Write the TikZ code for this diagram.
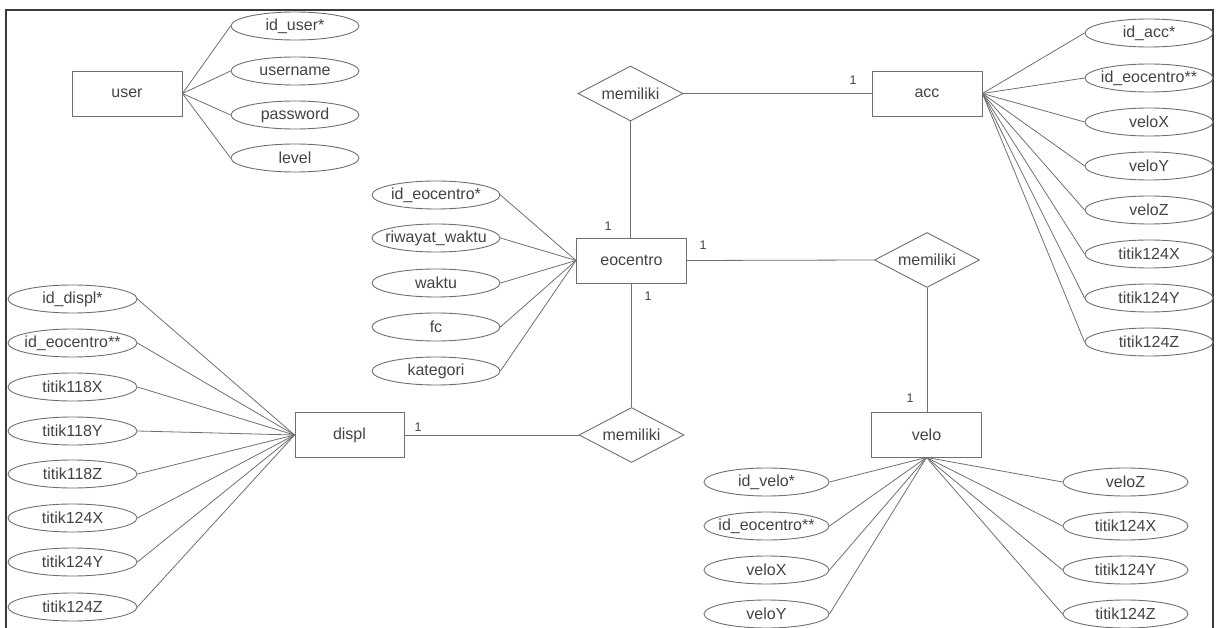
\documentclass[tikz,border=0pt]{standalone}
\usepackage{fontspec}
\setmainfont{Liberation Sans}
\usetikzlibrary{shapes.geometric}
\definecolor{txt}{HTML}{444444}
\definecolor{ln}{HTML}{707070}
\definecolor{frm}{HTML}{3A3A3A}
\tikzset{
  ent/.style={draw=ln, line width=0.9pt, rectangle, minimum width=110pt, minimum height=45pt, inner sep=0pt, text=txt, font=\fontsize{16}{19}\selectfont},
  attr/.style={draw=ln, line width=0.9pt, ellipse, minimum width=128pt, minimum height=28pt, inner sep=0pt, text=txt, font=\fontsize{16}{19}\selectfont},
  rel/.style={draw=ln, line width=0.9pt, diamond, aspect=2, minimum width=105pt, minimum height=55pt, inner sep=0pt, text=txt, font=\fontsize{16}{19}\selectfont},
  conn/.style={draw=ln, line width=0.8pt},
  card/.style={text=txt, font=\fontsize{12.5}{14}\selectfont, inner sep=0pt}
}
\newcommand{\at}[1]{\makebox[0pt]{#1}}
\begin{document}
\begin{tikzpicture}[x=1pt,y=-1pt]
\useasboundingbox (0,0) rectangle (1216,628);
\fill[white] (0,0) rectangle (1216,628);
\draw[frm, line width=1.8pt] (6,628) -- (6,10) -- (1213,10) -- (1213,628);

% entities
\node[ent] (user) at (127,93.5) {user};
\node[ent] (acc) at (927,93.5) {acc};
\node[ent] (eoc) at (631.5,260.5) {eocentro};
\node[ent] (velo) at (926.5,434.5) {velo};
\node[ent, minimum width=109pt] (displ) at (349.5,435) {displ};

% relations
\node[rel] (r1) at (630.5,93.5) {memiliki};
\node[rel] (r2) at (927,260) {memiliki};
\node[rel] (r3) at (631.5,435) {memiliki};

% user attributes
\node[attr] (u1) at (295,26) {\at{id\_user*}};
\node[attr] (u2) at (295,71) {\at{username}};
\node[attr] (u3) at (295,115) {\at{password}};
\node[attr] (u4) at (295,158) {\at{level}};
\foreach \a in {u1,u2,u3,u4} \draw[conn] (user.east) -- (\a.west);

% acc attributes
\node[attr] (a1) at (1149,33) {\at{id\_acc*}};
\node[attr] (a2) at (1149,78) {\at{id\_eocentro**}};
\node[attr] (a3) at (1149,122) {\at{veloX}};
\node[attr] (a4) at (1149,166) {\at{veloY}};
\node[attr] (a5) at (1149,210) {\at{veloZ}};
\node[attr] (a6) at (1149,254) {\at{titik124X}};
\node[attr] (a7) at (1149,298) {\at{titik124Y}};
\node[attr] (a8) at (1149,342) {\at{titik124Z}};
\foreach \a in {a1,a2,a3,a4,a5,a6,a7,a8} \draw[conn] (acc.east) -- (\a.west);

% eocentro attributes
\node[attr] (e1) at (436,195) {\at{id\_eocentro*}};
\node[attr] (e2) at (436,238) {\at{riwayat\_waktu}};
\node[attr] (e3) at (436,283) {\at{waktu}};
\node[attr] (e4) at (436,327) {\at{fc}};
\node[attr] (e5) at (436,371) {\at{kategori}};
\foreach \a in {e1,e2,e3,e4,e5} \draw[conn] (\a.east) -- (eoc.west);

% displ attributes
\node[attr, minimum width=129pt] (d1) at (72.5,299) {\at{id\_displ*}};
\node[attr, minimum width=129pt] (d2) at (72.5,343) {\at{id\_eocentro**}};
\node[attr, minimum width=129pt] (d3) at (72.5,387) {\at{titik118X}};
\node[attr, minimum width=129pt] (d4) at (72.5,431) {\at{titik118Y}};
\node[attr, minimum width=129pt] (d5) at (72.5,474) {\at{titik118Z}};
\node[attr, minimum width=129pt] (d6) at (72.5,518) {\at{titik124X}};
\node[attr, minimum width=129pt] (d7) at (72.5,562) {\at{titik124Y}};
\node[attr, minimum width=129pt] (d8) at (72.5,607) {\at{titik124Z}};
\foreach \a in {d1,d2,d3,d4,d5,d6,d7,d8} \draw[conn] (\a.east) -- (displ.west);

% velo attributes
\node[attr, minimum width=125pt] (v1) at (766.5,482) {\at{id\_velo*}};
\node[attr, minimum width=125pt] (v2) at (766.5,526) {\at{id\_eocentro**}};
\node[attr, minimum width=125pt] (v3) at (766.5,570) {\at{veloX}};
\node[attr, minimum width=125pt] (v4) at (766.5,614) {\at{veloY}};
\node[attr, minimum width=125pt] (v5) at (1125.5,482) {\at{veloZ}};
\node[attr, minimum width=125pt] (v6) at (1125.5,526) {\at{titik124X}};
\node[attr, minimum width=125pt] (v7) at (1125.5,570) {\at{titik124Y}};
\node[attr, minimum width=125pt] (v8) at (1125.5,614) {\at{titik124Z}};
\foreach \a in {v1,v2,v3,v4} \draw[conn] (velo.south) -- (\a.east);
\foreach \a in {v5,v6,v7,v8} \draw[conn] (velo.south) -- (\a.west);

% relationships
\draw[conn] (r1.east) -- (acc.west);
\draw[conn] (r1.south) -- (r1.south |- eoc.north);
\draw[conn] (eoc.east) -- (r2.west);
\draw[conn] (r2.south) -- (velo.north -| r2.south);
\draw[conn] (eoc.south) -- (eoc.south |- r3.north);
\draw[conn] (displ.east) -- (r3.west);

% cardinalities
\node[card] (c1) at (853,80) {1};
\node[card] (c2) at (608,226) {1};
\node[card] (c3) at (703,245) {1};
\node[card] (c4) at (648,296) {1};
\node[card] (c5) at (910,398) {1};
\node[card] (c6) at (418,427) {1};
\end{tikzpicture}
\end{document}
